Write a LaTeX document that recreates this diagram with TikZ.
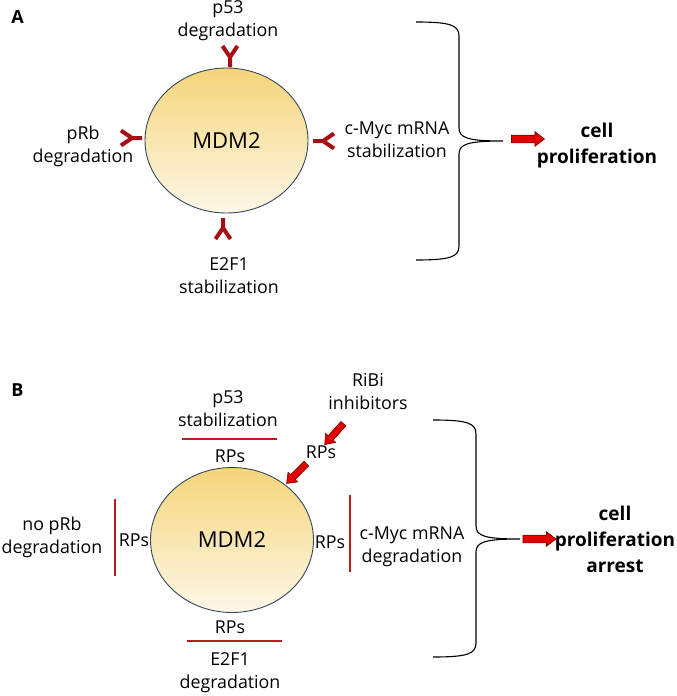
\documentclass[tikz,border=0pt]{standalone}
\usepackage{fontspec}
\setmainfont{Open Sans}
\usepackage{tikz}
\usetikzlibrary{shapes.geometric, shapes.arrows, positioning}

\definecolor{inhred}{HTML}{A80F14}
\definecolor{rpred}{HTML}{B81C1C}
\definecolor{arrfill}{HTML}{E00000}
\definecolor{arrdraw}{HTML}{7A0000}
\definecolor{mdmtop}{HTML}{F5D57A}
\definecolor{mdmbot}{HTML}{FDF7E8}
\definecolor{rim}{HTML}{33475B}

\begin{document}
\begin{tikzpicture}[
  x=1pt, y=-1pt,
  txt/.style={font=\fontsize{17.8}{23}\selectfont, align=center, inner sep=0pt},
  outcome/.style={font=\bfseries\fontsize{19}{26}\selectfont, align=center, inner sep=0pt},
  panel/.style={font=\bfseries\fontsize{18}{20}\selectfont, inner sep=0pt},
  mdm/.style={ellipse, draw=rim, line width=0.9pt, top color=mdmtop, bottom color=mdmbot,
              minimum width=163pt, minimum height=145pt, inner sep=0pt,
              font=\fontsize{22}{24}\selectfont},
  rpline/.style={draw=rpred, line width=2.4pt},
  brace/.style={draw=black, line width=1.1pt},
  blockarrow/.style={single arrow, draw=arrdraw, fill=arrfill, line width=0.6pt,
              minimum height=33pt, inner sep=3.5pt, single arrow head extend=3.5pt,
              single arrow tip angle=75},
  smallarrow/.style={blockarrow, minimum height=28pt, inner sep=3pt, single arrow head extend=3.5pt},
  inhib/.pic={\draw[inhred, line width=4pt, line join=miter]
              (0,0) -- (10,0) (21,-7.5) -- (10,0) -- (21,7.5);}
]
\useasboundingbox (0,0) rectangle (677,696);

% panel A
\node[panel] (labA) at (17.5,17.5) {A};
\node[mdm] (mdmA) at (226.5,140.5) {MDM2};

\pic[rotate=90]  at (230,67)  {inhib};
\pic[rotate=180] at (142,138) {inhib};
\pic[rotate=0]   at (313,141) {inhib};
\pic[rotate=-90] at (223,218) {inhib};

\node[txt] (p53A)  at (228,21)  {p53\\degradation};
\node[txt] (prbA)  at (83,146)  {pRb\\degradation};
\node[txt] (mycA)  at (397,140) {c-Myc mRNA\\stabilization};
\node[txt] (e2fA)  at (229,276) {E2F1\\stabilization};

\coordinate (tipA) at (503,141);
\draw[brace] (416,22) .. controls (450,22) and (459,25) .. (459,36) -- (459,128)
  .. controls (459,138) and (468,141) .. (tipA)
  .. controls (468,141) and (459,144) .. (459,154) -- (459,246)
  .. controls (459,257) and (450,260) .. (416,260);

\node[blockarrow] (arrA) at (525.5,139) {};
\node[outcome] (cellA) at (597,146) {cell\\proliferation};

% panel B
\node[panel] (labB) at (17.5,390) {B};
\node[mdm] (mdmB) at (232,540) {MDM2};

\node[txt] (p53B) at (228,408.5) {p53\\stabilization};
\draw[rpline] (182,439) -- (277,439);
\node[txt] (rpTop) at (230,456) {RPs};

\node[txt] (prbB) at (52,537.5) {no pRb\\degradation};
\draw[rpline] (115,499) -- (115,576);
\node[txt] (rpLeft) at (134,540) {RPs};

\node[txt] (rpBot) at (230,627) {RPs};
\draw[rpline] (187,641) -- (282,641);
\node[txt] (e2fB) at (230,673) {E2F1\\degradation};

\node[txt] (rpRight) at (330,542) {RPs};
\draw[rpline] (350,495) -- (350,572);
\node[txt] (mycB) at (412,547) {c-Myc mRNA\\degradation};

\node[txt] (ribi) at (368,392) {RiBi\\inhibitors};
\node[txt] (rpUp) at (321,452) {RPs};
\node[smallarrow, rotate=228] (arrRibi) at (335.5,432.5) {};
\node[smallarrow, rotate=225] (arrRp) at (298,472) {};

\coordinate (tipB) at (520,539);
\draw[brace] (433,420) .. controls (467,420) and (476,423) .. (476,434) -- (476,526)
  .. controls (476,536) and (485,539) .. (tipB)
  .. controls (485,539) and (476,542) .. (476,552) -- (476,643)
  .. controls (476,654) and (467,657) .. (433,657);

\node[blockarrow] (arrB) at (537,539) {};
\node[outcome] (cellB) at (615,539) {cell\\proliferation\\arrest};

\end{tikzpicture}
\end{document}
